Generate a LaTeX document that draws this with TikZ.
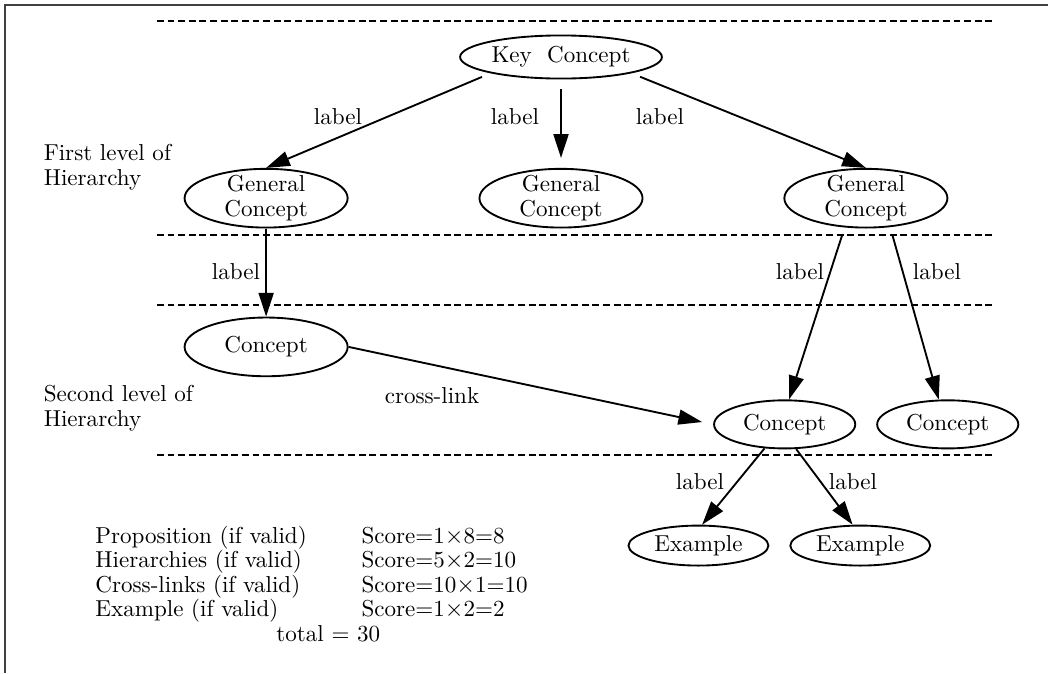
\documentclass[tikz,border=0pt]{standalone}
\usetikzlibrary{shapes.geometric,arrows.meta,positioning}

\tikzset{
  every node/.style={font=\fontsize{10.5}{11.5}\selectfont},
  concept/.style={draw, ellipse, inner sep=0pt, align=center, line width=0.85pt},
  general/.style={concept, inner ysep=-2pt, minimum width=2.61cm, minimum height=0.94cm},
  link/.style={-{Triangle[length=3.8mm,width=2.4mm]}, line width=0.85pt},
  levelline/.style={dash pattern=on 1.1mm off 0.6mm, line width=0.6pt},
  linklabel/.style={inner sep=1pt}
}

\begin{document}
\begin{tikzpicture}[x=0.016cm, y=-0.016cm, on grid]
  \useasboundingbox (0,0) rectangle (1048,673);

  % frame and level separators
  \draw[line width=0.8pt, black!75] (1048,5) -- (5,5) -- (5,673);
  \draw[levelline] (157,21) -- (993,21);
  \draw[levelline] (157,235) -- (993,235);
  \draw[levelline] (157,305) -- (993,305);
  \draw[levelline] (157,455) -- (993,455);

  \node (keyConcept)
        [concept, minimum width=3.23cm, minimum height=0.69cm]
        at (561,57)
        {Key\ \ Concept};
  \node (gcMid)
        [general, below=2.26cm of keyConcept]
        {General\\Concept};
  \node (gcLeft)
        [general, left=4.72cm of gcMid]
        {General\\Concept};
  \node (gcRight)
        [general, right=4.88cm of gcMid]
        {General\\Concept};
  \node (conceptLeft)
        [concept, minimum width=2.61cm, minimum height=0.94cm, below=2.38cm of gcLeft]
        {Concept};
  \node (conceptMid)
        [concept, minimum width=2.26cm, minimum height=0.77cm, below left=3.62cm and 1.3cm of gcRight]
        {Concept};
  \node (conceptRight)
        [concept, minimum width=2.26cm, minimum height=0.77cm, right=2.61cm of conceptMid]
        {Concept};
  \node (exampleLeft)
        [concept, minimum width=2.24cm, minimum height=0.64cm, below left=1.94cm and 1.38cm of conceptMid]
        {Example};
  \node (exampleRight)
        [concept, minimum width=2.24cm, minimum height=0.64cm, right=2.59cm of exampleLeft]
        {Example};

  % level names
  \node (levelOne) [anchor=west, align=left] at (36,167) {First level of\\Hierarchy};
  \node (levelTwo) [anchor=west, align=left] at (36,408) {Second level of\\Hierarchy};

  % link labels
  \node (lblKeyLeft) [linklabel] at (338,117) {label};
  \node (lblKeyMid) [linklabel] at (515,117) {label};
  \node (lblKeyRight) [linklabel] at (660,117) {label};
  \node (lblGcLeft) [linklabel] at (236,272) {label};
  \node (lblGcRightA) [linklabel] at (800,272) {label};
  \node (lblGcRightB) [linklabel] at (937,272) {label};
  \node (lblCross) [linklabel] at (432,396) {cross-link};
  \node (lblExLeft) [linklabel] at (700,482) {label};
  \node (lblExRight) [linklabel] at (853,482) {label};

  \draw[link, shorten <=1.5mm] (keyConcept.-167) -- (gcLeft.north);
  \draw[link, shorten <=1.6mm, shorten >=1.6mm] (keyConcept) -- (gcMid);
  \draw[link, shorten <=1.5mm] (keyConcept.-13) -- (gcRight.north);
  \draw[link] (gcLeft) -- (conceptLeft);
  \draw[link, shorten <=1.3mm] (gcRight.-126) -- (conceptMid.80);
  \draw[link, shorten <=1.3mm] (gcRight.-50) -- (conceptRight.110);
  \draw[link, shorten >=1.8mm] (conceptLeft.east) -- (conceptMid.west);
  \draw[link] (conceptMid.-130) -- (exampleLeft.80);
  \draw[link] (conceptMid.-65) -- (exampleRight.110);

  % scoring
  \node (scores)
        [anchor=west, inner sep=0pt, font=\fontsize{10.5}{11}\selectfont]
        at (95,575)
        {\begin{tabular}{@{}p{4.26cm}@{}l@{}}
           Proposition (if valid) & Score=1$\times$8=8\\
           Hierarchies (if valid) & Score=5$\times$2=10\\
           Cross-links (if valid) & Score=10$\times$1=10\\
           Example (if valid) & Score=1$\times$2=2
         \end{tabular}};
  \node (total) [anchor=west, inner sep=0pt] at (276,634) {total = 30};
\end{tikzpicture}
\end{document}
